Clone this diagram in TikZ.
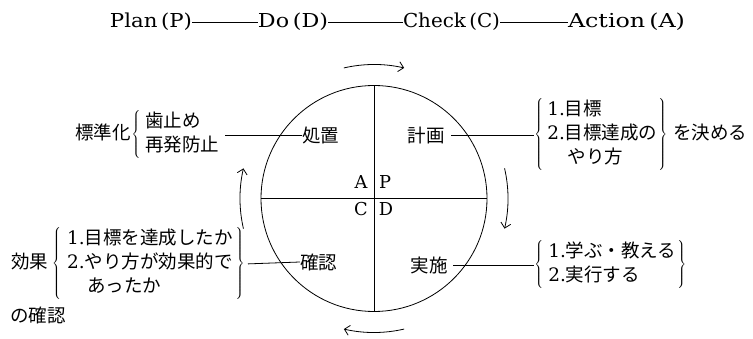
\documentclass[tikz,border=0pt]{standalone}
\usepackage{fontspec}
\newfontfamily\jp{Noto Sans CJK JP}
\newfontfamily\lat{DejaVu Serif}
\usetikzlibrary{arrows.meta}
\newcommand\itemno[1]{{\lat #1.}}
\newcommand\ttlword[2]{\resizebox{#1}{\height}{#2}}
\begin{document}
\begin{tikzpicture}[x=1pt, y=1pt, line width=0.8pt,
  >={Straight Barb[length=5pt,width=10pt]},
  ttl/.style={inner sep=0pt, font=\fontsize{19.2}{24}\selectfont\lat},
  jtxt/.style={inner sep=0pt, font=\fontsize{18.5}{24}\selectfont\jp},
  quad/.style={inner sep=0pt, font=\fontsize{17.8}{22}\selectfont\lat},
  turn/.style={->, line width=0.8pt}]

  \useasboundingbox (0,0) rectangle (753,-339);

  % title row
  \node[ttl] (plan) at (151,-22) {\ttlword{82pt}{Plan\,(P)}};
  \node[ttl] (do) at (293,-22) {\ttlword{70pt}{Do\,(D)}};
  \node[ttl] (check) at (451.5,-22) {\ttlword{97pt}{Check\,(C)}};
  \node[ttl] (act) at (626.5,-22) {\ttlword{117pt}{Action\,(A)}};
  \draw[line width=0.6pt] (plan.east) -- (do.west) (do.east) -- (check.west) (check.east) -- (act.west);

  % cycle
  \node[draw, circle, minimum size=226pt, inner sep=0pt] (cyc) at (374,-198.5) {};
  \draw (cyc.north) -- (cyc.south) (cyc.west) -- (cyc.east);
  \node[quad] (qa) at (361,-182) {A};
  \node[quad] (qp) at (385,-182) {P};
  \node[quad] (qc) at (361,-209) {C};
  \node[quad] (qd) at (386,-209) {D};

  % turning arrows
  \draw[turn] ([shift={(103:134)}]cyc.center) arc[start angle=103, end angle=77, radius=134];
  \draw[turn] ([shift={(13:134)}]cyc.center) arc[start angle=13, end angle=-13, radius=134];
  \draw[turn] ([shift={(-77:134)}]cyc.center) arc[start angle=-77, end angle=-103, radius=134];
  \draw[turn] ([shift={(193:134)}]cyc.center) arc[start angle=193, end angle=167, radius=134];

  % A: action
  \node[jtxt, anchor=west] (shochi) at (302,-135) {処置};
  \node[jtxt, anchor=east] (hyojun) at (221,-135)
    {標準化\hspace{1pt}$\left\{\begin{tabular}{@{\hspace{5pt}}l@{}}歯止め\\再発防止\end{tabular}\right.$};
  \draw[shorten <=4pt] (hyojun.east) -- (shochi.west);

  % P: plan
  \node[jtxt, anchor=east] (keikaku) at (445,-135) {計画};
  \node[jtxt, anchor=west] (pset) at (534,-135)
    {$\left\{\begin{tabular}{@{\hspace{4pt}}l@{\hspace{1pt}}}\itemno{1}目標\\\itemno{2}目標達成の\\\hspace*{1.1em}やり方\end{tabular}\right\}$\hspace{6pt}を決める};
  \draw[shorten <=6pt] (keikaku.east) -- (pset.west);

  % D: do
  \node[jtxt, anchor=east] (jisshi) at (448,-265) {実施};
  \node[jtxt, anchor=west] (dset) at (534,-265)
    {$\left\{\begin{tabular}{@{\hspace{5pt}}l@{\hspace{1pt}}}\itemno{1}学ぶ・教える\\\itemno{2}実行する\end{tabular}\right\}$};
  \draw[shorten <=5pt] (jisshi.east) -- (dset.west);

  % C: check
  \node[jtxt, anchor=west] (kakunin) at (300,-262) {確認};
  \node[jtxt, anchor=east] (cset) at (245,-264)
    {効果\hspace{4pt}$\left\{\begin{tabular}{@{\hspace{6pt}}l@{\hspace{3pt}}}\itemno{1}目標を達成したか\\\itemno{2}やり方が効果的で\\\hspace*{1.1em}あったか\end{tabular}\right\}$};
  \node[jtxt, anchor=west] (cnote) at (10,-315) {の確認};
  \draw[shorten <=3pt] (cset.east) -- (kakunin.west);

\end{tikzpicture}
\end{document}
